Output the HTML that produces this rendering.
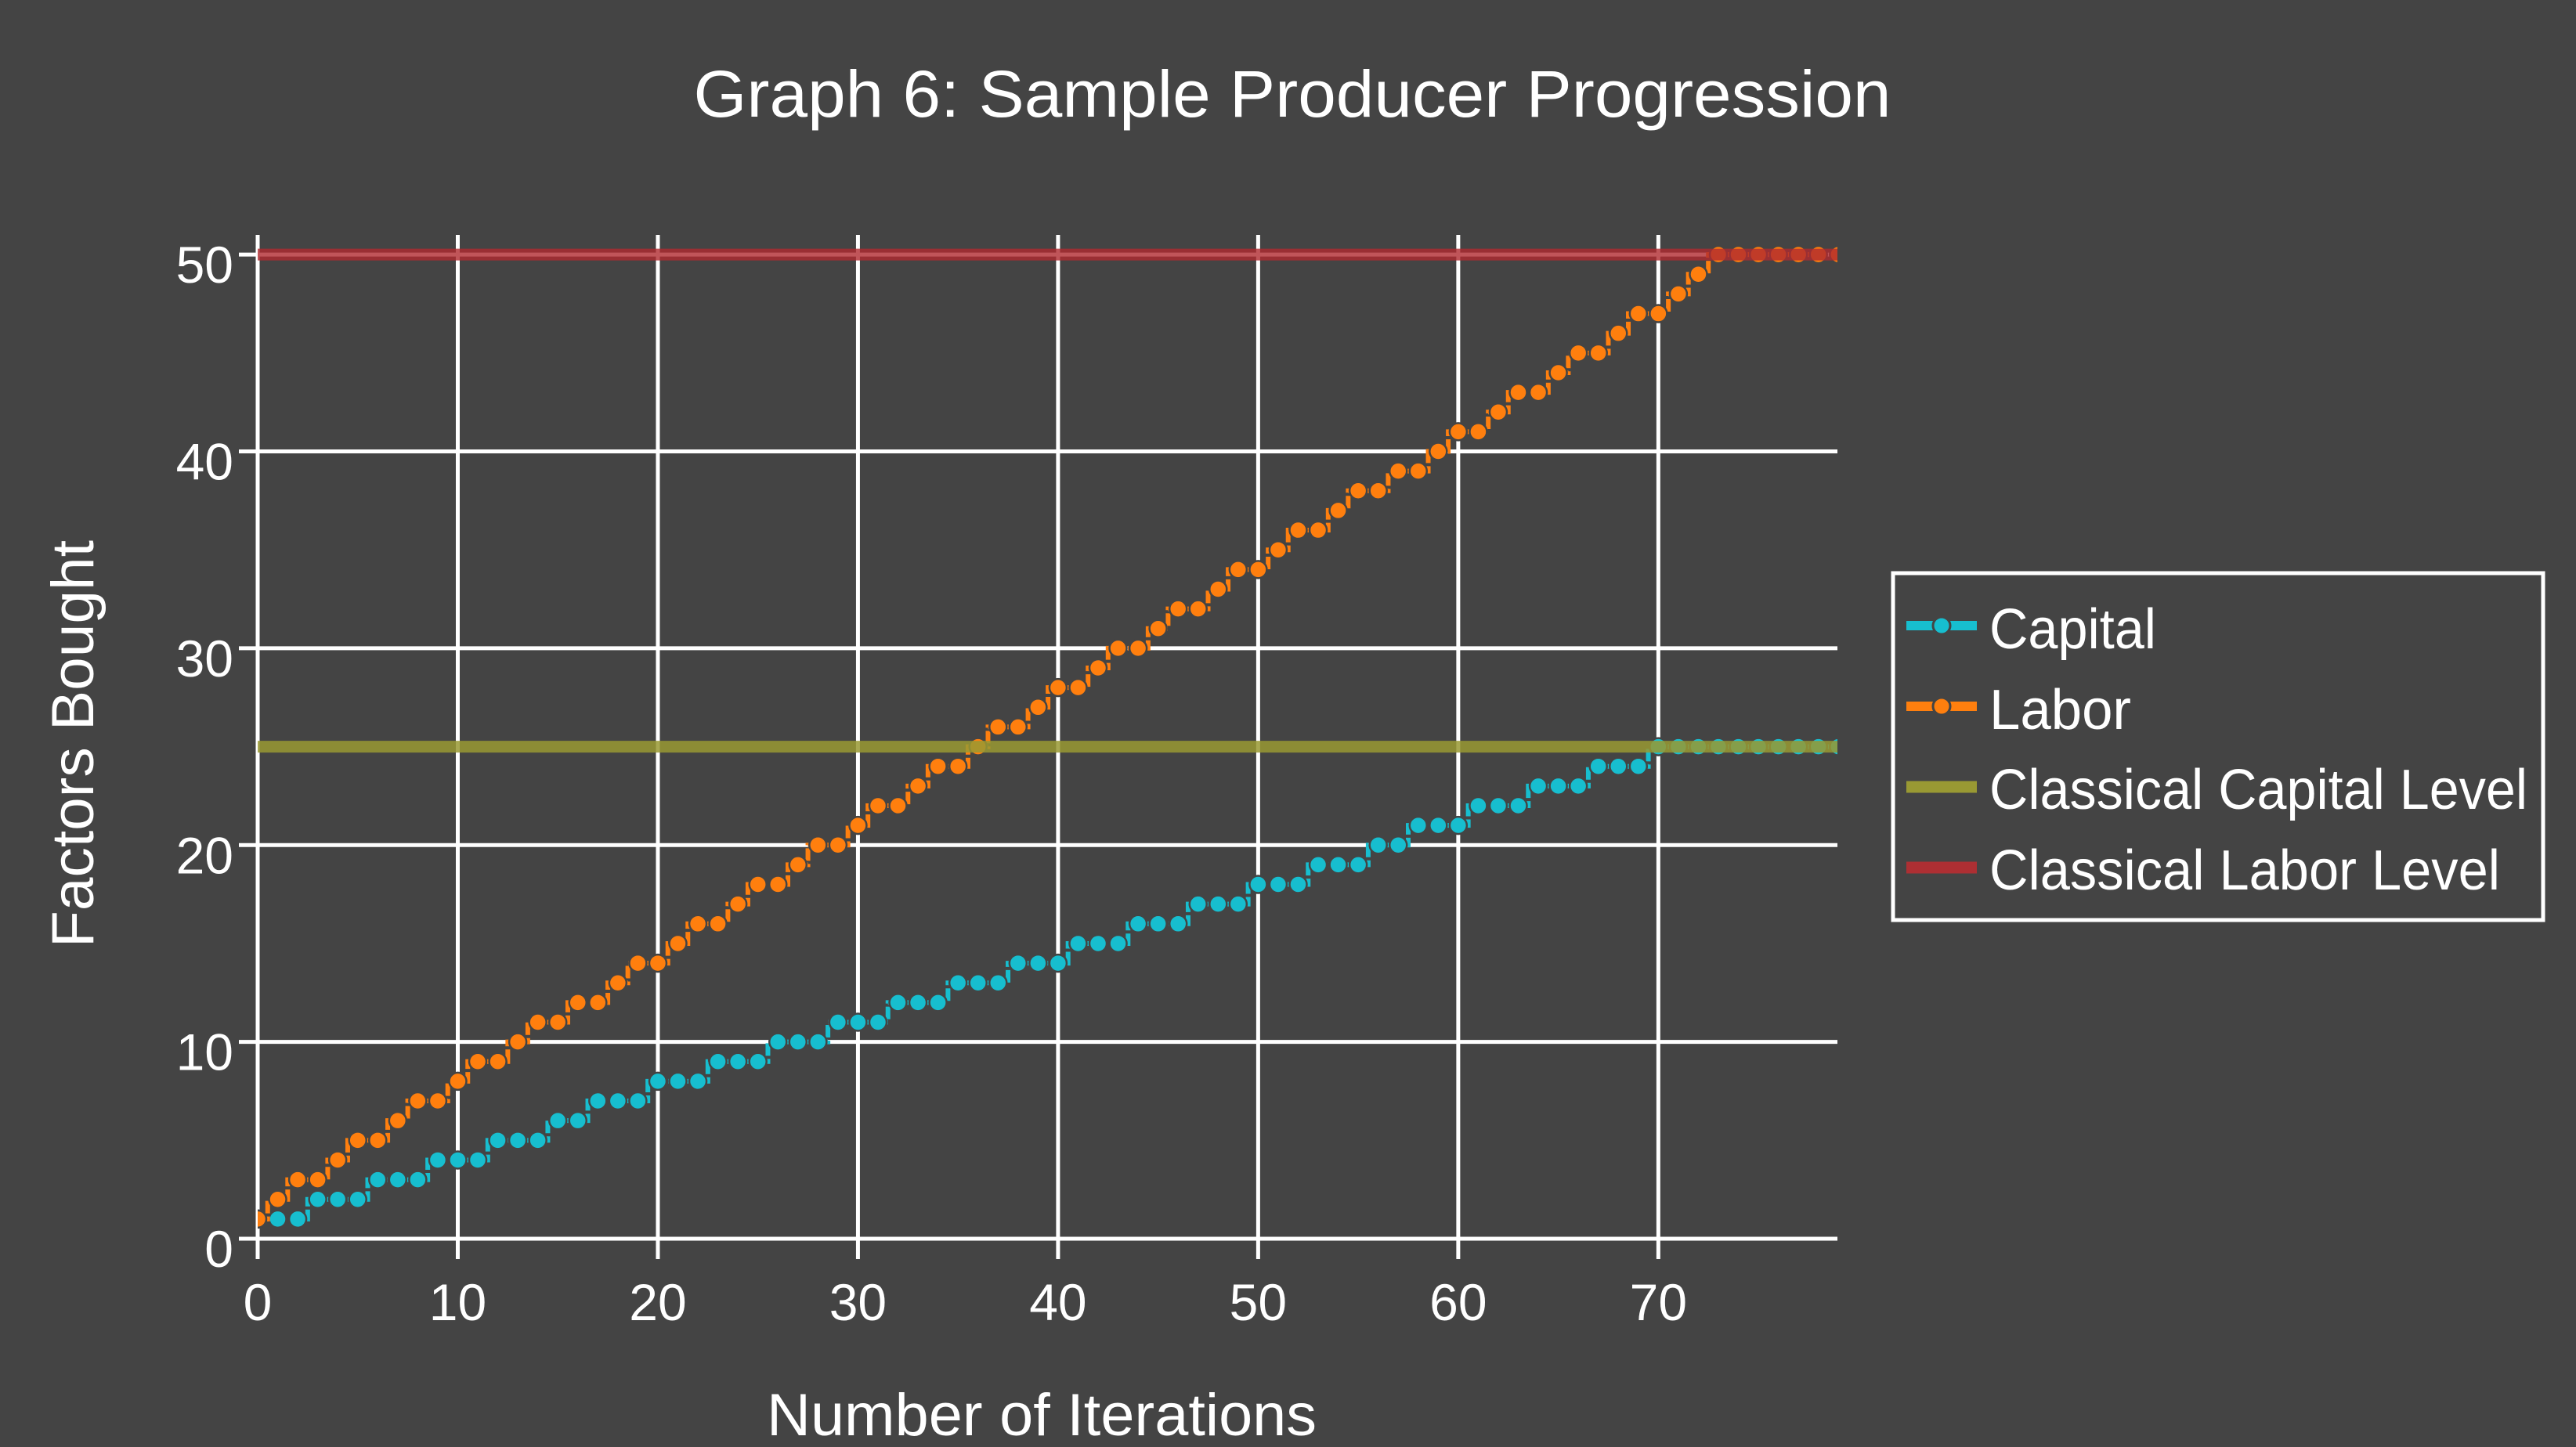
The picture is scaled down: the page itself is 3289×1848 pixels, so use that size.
<!DOCTYPE html>
<html><head><meta charset="utf-8">
<style>
html,body{margin:0;padding:0;background:#444444;}
svg{display:block;}
text{font-family:"Liberation Sans",sans-serif;fill:#ffffff;}
</style></head>
<body>
<svg id="chart" width="3289" height="1848" viewBox="0 0 3289 1848" xmlns="http://www.w3.org/2000/svg">
<rect width="3289" height="1848" fill="#444444"/>
<text x="1650" y="149" font-size="84" text-anchor="middle" textLength="1529" lengthAdjust="spacingAndGlyphs">Graph 6: Sample Producer Progression</text>
<g id="grid"></g>
<g id="ticks"></g>
<defs><clipPath id="plotclip"><rect x="329" y="300" width="2017" height="1300"/></clipPath></defs>
<g id="series" clip-path="url(#plotclip)"></g>
<text x="1330" y="1833" font-size="76" text-anchor="middle" textLength="702" lengthAdjust="spacingAndGlyphs">Number of Iterations</text>
<text transform="translate(119,950) rotate(-90)" font-size="76" text-anchor="middle" textLength="520" lengthAdjust="spacingAndGlyphs">Factors Bought</text>
<g>
<rect x="2417" y="732" width="830" height="443" fill="none" stroke="#ffffff" stroke-width="5"/>
<g>
<line x1="2434" y1="799" x2="2524" y2="799" stroke="#17becf" stroke-width="12"/>
<circle cx="2479" cy="799" r="11" fill="#17becf" stroke="#444" stroke-width="3"/>
<text x="2540" y="828" font-size="72" textLength="213" lengthAdjust="spacingAndGlyphs">Capital</text>
</g>
<g>
<line x1="2434" y1="902" x2="2524" y2="902" stroke="#ff7f0e" stroke-width="12"/>
<circle cx="2479" cy="902" r="11" fill="#ff7f0e" stroke="#444" stroke-width="3"/>
<text x="2540" y="931" font-size="72" textLength="181" lengthAdjust="spacingAndGlyphs">Labor</text>
</g>
<g>
<line x1="2434" y1="1005" x2="2524" y2="1005" stroke="#999933" stroke-width="15"/>
<text x="2540" y="1033" font-size="72" textLength="687" lengthAdjust="spacingAndGlyphs">Classical Capital Level</text>
</g>
<g>
<line x1="2434" y1="1108" x2="2524" y2="1108" stroke="#ad2f33" stroke-width="15"/>
<text x="2540" y="1136" font-size="72" textLength="652" lengthAdjust="spacingAndGlyphs">Classical Labor Level</text>
</g>
</g>
</svg>
<script>
const iterations = Array.from({length:80},(_,i)=>i);
const capital = [1,1,1,2,2,2,3,3,3,4,4,4,5,5,5,6,6,7,7,7,8,8,8,9,9,9,10,10,10,11,11,11,12,12,12,13,13,13,14,14,14,15,15,15,16,16,16,17,17,17,18,18,18,19,19,19,20,20,21,21,21,22,22,22,23,23,23,24,24,24,25,25,25,25,25,25,25,25,25,25];
const labor = [1,2,3,3,4,5,5,6,7,7,8,9,9,10,11,11,12,12,13,14,14,15,16,16,17,18,18,19,20,20,21,22,22,23,24,24,25,26,26,27,28,28,29,30,30,31,32,32,33,34,34,35,36,36,37,38,38,39,39,40,41,41,42,43,43,44,45,45,46,47,47,48,49,50,50,50,50,50,50,50];
const classicalCapital = 25;
const classicalLabor = 50;
const xTicks = [0,10,20,30,40,50,60,70];
const yTicks = [0,10,20,30,40,50];
const xMin=0,xMax=78.95,yMin=0,yMax=51;
const L=329,R=2346,T=300,B=1582;
const NS="http://www.w3.org/2000/svg";
function X(v){return L+(v-xMin)/(xMax-xMin)*(R-L);}
function Y(v){return B-(v-yMin)/(yMax-yMin)*(B-T);}
function mk(tag,attrs,parent){const e=document.createElementNS(NS,tag);for(const k in attrs)e.setAttribute(k,attrs[k]);parent.appendChild(e);return e;}
const grid=document.getElementById('grid'),ticks=document.getElementById('ticks'),series=document.getElementById('series');
xTicks.forEach(t=>{
  const g=mk('line',{x1:X(t),x2:X(t),y1:T,y2:B+26,stroke:'#fff','stroke-width':5},grid);
  
  
  const tx=mk('text',{x:X(t),y:1686,'font-size':66,'text-anchor':'middle'},ticks);
  tx.textContent=t;
  
  
});
yTicks.forEach(t=>{
  const g=mk('line',{x1:L-24,x2:R,y1:Y(t),y2:Y(t),stroke:'#fff','stroke-width':5},grid);
  
  
  const tx=mk('text',{x:298,y:Y(t)+36,'font-size':66,'text-anchor':'end'},ticks);
  tx.textContent=t;
  
  
});
function stepSeries(vals,color,name){
  let d='M'+X(iterations[0])+','+Y(vals[0]);
  for(let i=1;i<vals.length;i++){
    const xm=(X(iterations[i-1])+X(iterations[i]))/2;
    d+=' H'+xm+' V'+Y(vals[i])+' H'+X(iterations[i]);
  }
  const p=mk('path',{d:d,fill:'none',stroke:color,'stroke-width':6,'stroke-dasharray':'16,4'},series);
  
  
  vals.forEach((v,i)=>{
    const c=mk('circle',{cx:X(iterations[i]),cy:Y(v),r:11,fill:color,stroke:'#444','stroke-width':2.5},series);
    
    
  });
}
stepSeries(capital,'#17becf','capital');
stepSeries(labor,'#ff7f0e','labor');
const cc=mk('line',{x1:L,x2:R,y1:Y(classicalCapital),y2:Y(classicalCapital),stroke:'#999933','stroke-width':15,'stroke-opacity':0.85},series);


const cl=mk('line',{x1:L,x2:R,y1:Y(classicalLabor),y2:Y(classicalLabor),stroke:'#b02a30','stroke-width':15,'stroke-opacity':0.8},series);


</script>
</body></html>
